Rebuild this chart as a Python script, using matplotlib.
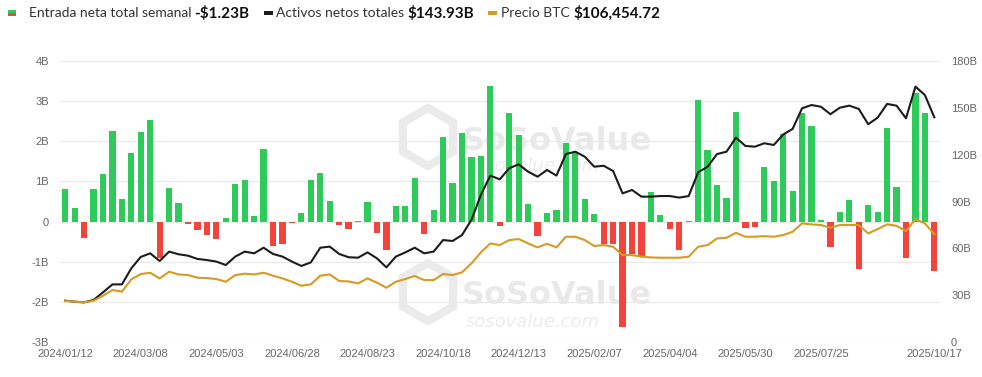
import matplotlib.pyplot as plt
from matplotlib.patches import Rectangle, RegularPolygon

# Entrada neta total semanal (miles de millones USD), 2024/01/12 -> 2025/10/17
flujo_semanal = [
    0.80, 0.33, -0.40, 0.80, 1.18, 2.26, 0.56, 1.70, 2.22, 2.54,
    -0.90, 0.84, 0.46, -0.07, -0.20, -0.33, -0.44, 0.09, 0.93, 1.04,
    0.15, 1.80, -0.60, -0.57, -0.03, 0.21, 1.03, 1.22, 0.52, -0.09,
    -0.19, 0.02, 0.49, -0.29, -0.71, 0.38, 0.38, 1.08, -0.32, 0.29,
    2.11, 0.97, 2.20, 1.60, 1.64, 3.37, -0.12, 2.71, 2.16, 0.43,
    -0.37, 0.22, 0.30, 1.95, 1.74, 0.55, 0.19, -0.57, -0.57, -2.62,
    -0.80, -0.85, 0.73, 0.17, -0.19, -0.72, 0.01, 3.03, 1.79, 0.91,
    0.59, 2.73, -0.15, -0.13, 1.37, 1.01, 2.19, 0.76, 2.71, 2.37,
    0.05, -0.64, 0.23, 0.54, -1.17, 0.42, 0.23, 2.32, 0.87, -0.90,
    3.21, 2.70, -1.23,
]

# Activos netos totales (miles de millones USD)
activos_netos = [
    26.5, 25.8, 25.4, 26.9, 31.8, 36.9, 36.9, 47.2, 54.5, 56.8,
    51.9, 57.9, 56.2, 55.3, 53.2, 52.5, 51.5, 49.3, 54.7, 57.9,
    56.8, 60.4, 56.4, 54.7, 51.5, 48.7, 51.0, 60.4, 61.1, 56.4,
    54.3, 54.0, 57.4, 53.6, 47.8, 54.7, 57.4, 60.4, 56.8, 57.9,
    65.3, 64.7, 68.5, 78.2, 94.2, 106.6, 104.2, 111.3, 113.8, 109.1,
    105.9, 110.2, 106.6, 120.4, 121.9, 118.7, 112.3, 112.9, 109.5, 95.2,
    97.4, 93.1, 93.1, 93.5, 93.5, 92.5, 93.5, 108.7, 112.3, 120.4,
    121.9, 130.9, 125.6, 125.1, 127.3, 126.2, 132.9, 136.5, 149.7, 151.8,
    150.7, 145.9, 150.1, 151.4, 149.3, 139.5, 143.7, 152.5, 151.4, 143.3,
    163.6, 158.2, 143.93,
]

# Precio BTC (miles USD)
precio_btc = [
    42.7, 41.8, 41.2, 42.7, 47.5, 53.0, 51.4, 63.2, 68.3, 69.5,
    64.1, 70.5, 67.9, 67.3, 64.8, 64.4, 63.5, 60.9, 67.3, 68.6,
    67.9, 69.5, 66.7, 64.1, 60.9, 57.1, 58.4, 66.7, 67.9, 61.6,
    61.2, 59.3, 64.1, 60.0, 55.2, 60.9, 63.5, 66.4, 62.5, 62.5,
    68.3, 67.3, 69.9, 78.5, 89.0, 97.6, 96.0, 100.8, 101.8, 97.6,
    93.8, 97.3, 93.8, 104.0, 104.0, 100.8, 95.1, 96.0, 94.4, 86.4,
    86.4, 84.9, 84.2, 83.9, 83.9, 83.9, 84.9, 94.4, 96.0, 102.4,
    103.0, 107.8, 104.0, 104.0, 104.6, 104.0, 105.6, 108.8, 116.8, 115.8,
    115.2, 112.6, 115.2, 115.2, 115.2, 107.2, 111.3, 115.8, 114.5, 109.4,
    120.9, 116.8, 106.45,
]

etiquetas_x = ["2024/01/12", "2024/03/08", "2024/05/03", "2024/06/28", "2024/08/23",
               "2024/10/18", "2024/12/13", "2025/02/07", "2025/04/04", "2025/05/30",
               "2025/07/25", "2025/10/17"]
posiciones_x = [0, 8, 16, 24, 32, 40, 48, 56, 64, 72, 80, 92]

VERDE = "#2fcb5a"
ROJO = "#f2443b"
NEGRO = "#1c1c1c"
DORADO = "#d89a22"
GRIS_TXT = "#666666"

semanas = list(range(len(flujo_semanal)))
colores = [VERDE if v >= 0 else ROJO for v in flujo_semanal]

fig = plt.figure(figsize=(9.82, 3.77), dpi=100)
fig.patch.set_facecolor("white")

# zona de trazado: x 60..940 px, y 61..342 px
ax = fig.add_axes([60 / 982, 1 - 342 / 377, 880 / 982, 281 / 377])
ax_der = ax.twinx()
ax_precio = ax.twinx()

ax.bar(semanas, flujo_semanal, width=0.66, color=colores, zorder=2)
ax.set_ylim(-3, 4)
ax.set_yticks(range(-3, 5))
ax.set_yticklabels([f"{v}B" if v != 0 else "0" for v in range(-3, 5)])
ax.set_xlim(-0.55, 92.6)
ax.set_xticks(posiciones_x)
ax.set_xticklabels(etiquetas_x)
ax.set_axisbelow(True)
ax.grid(axis="y", color="#e9e9e9", linewidth=0.9)
ax.grid(axis="x", visible=False)

ax_der.plot(semanas, activos_netos, color=NEGRO, linewidth=1.5, zorder=3)
ax_der.set_ylim(0, 180)
ax_der.set_yticks(range(0, 181, 30))
ax_der.set_yticklabels(["0"] + [f"{v}B" for v in range(30, 181, 30)])

# eje de precio oculto
ax_precio.plot(semanas, precio_btc, color=DORADO, linewidth=1.5, zorder=3)
ax_precio.set_ylim(3.2, 272.3)
ax_precio.set_yticks([])

for eje in (ax, ax_der, ax_precio):
    for lado in eje.spines.values():
        lado.set_visible(False)
    eje.tick_params(length=0, labelsize=8, labelcolor=GRIS_TXT)
    for t in eje.get_xticklabels() + eje.get_yticklabels():
        t.set_fontfamily("Liberation Sans")
ax.tick_params(axis="y", pad=8)
ax.tick_params(axis="x", pad=5)
ax_der.tick_params(axis="y", pad=8)

# marcas de agua
for ym, yt, yu in [(137, 142, 166), (292, 296, 322)]:
    hexa = RegularPolygon((4.28, (377 - ym) / 100), numVertices=6, radius=0.29,
                          transform=fig.dpi_scale_trans, facecolor="none",
                          edgecolor="#ebebeb", linewidth=6, zorder=1, clip_on=False)
    ax.add_patch(hexa)
    ax.text((462 - 60) / 880, (342 - yt) / 281, "SoSoValue", transform=ax.transAxes,
            fontsize=23, fontweight="bold", color="#e9e9e9", va="center", ha="left", zorder=1)
    ax.text((466 - 60) / 880, (342 - yu) / 281, "sosovalue.com", transform=ax.transAxes,
            fontsize=13, style="italic", color="#ececec", va="center", ha="left", zorder=1)

# cabecera con leyenda
fig.patches.append(Rectangle((8 / 982, 1 - 13 / 377), 8 / 982, 3 / 377,
                             transform=fig.transFigure, facecolor=VERDE, edgecolor="none"))
fig.patches.append(Rectangle((8 / 982, 1 - 16 / 377), 8 / 982, 3 / 377,
                             transform=fig.transFigure, facecolor=ROJO, edgecolor="none"))

renderer = fig.canvas.get_renderer()
y_cab = 1 - 13 / 377
x_px = 29
partes = [
    ("Entrada neta total semanal", dict(fontsize=10, color="#333333"), 3),
    ("-$1.23B", dict(fontsize=11, fontweight="bold", color="#111111"), 14),
    (None, NEGRO, 4),
    ("Activos netos totales", dict(fontsize=10, color="#333333"), 3),
    ("$143.93B", dict(fontsize=11, fontweight="bold", color="#111111"), 14),
    (None, DORADO, 4),
    ("Precio BTC", dict(fontsize=10, color="#333333"), 3),
    ("$106,454.72", dict(fontsize=11, fontweight="bold", color="#111111"), 0),
]
for texto, estilo, hueco in partes:
    if texto is None:
        fig.patches.append(Rectangle((x_px / 982, y_cab - 2 / 377), 9 / 982, 4 / 377,
                                     transform=fig.transFigure, facecolor=estilo,
                                     edgecolor="none"))
        x_px += 9 + hueco
        continue
    t = fig.text(x_px / 982, y_cab, texto, va="center", ha="left",
                 fontfamily="Lato", **estilo)
    x_px = t.get_window_extent(renderer).x1 + hueco

fig.savefig("out.png", dpi=100, facecolor="white")
